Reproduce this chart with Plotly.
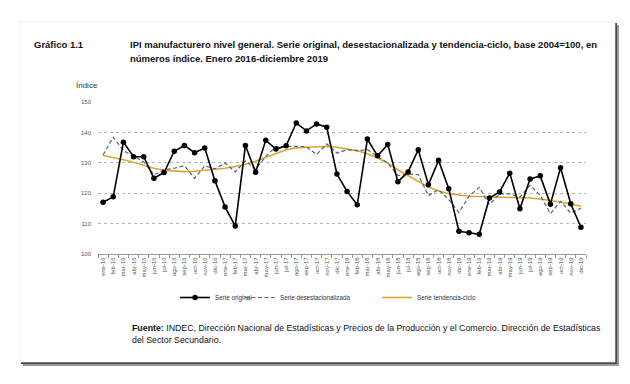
import plotly.graph_objects as go

months = ["ene", "feb", "mar", "abr", "may", "jun", "jul", "ago", "sep", "oct", "nov", "dic"]
years = ["16", "17", "18", "19"]
categories = [f"{m}-{y}" for y in years for m in months]

serie_original = [117.0, 118.8, 136.8, 132.0, 132.0, 124.9, 126.8, 133.8, 135.7, 133.3, 134.9, 124.1,
                  115.5, 109.2, 135.7, 126.9, 137.4, 134.5, 135.6, 143.1, 140.5, 142.8, 141.7, 126.3,
                  120.6, 116.2, 137.8, 132.3, 136.0, 123.8, 127.0, 134.3, 122.8, 130.8, 121.5, 107.5,
                  107.0, 106.5, 118.4, 120.4, 126.6, 114.9, 124.7, 125.7, 116.4, 128.4, 116.5, 108.8]

serie_desest = [132.6, 138.4, 134.0, 132.1, 130.3, 126.0, 127.7, 128.2, 129.0, 124.9, 129.0, 128.0,
                129.9, 127.0, 130.6, 127.9, 132.1, 135.3, 135.4, 135.4, 135.3, 132.7, 136.2, 133.2,
                134.3, 134.0, 134.3, 132.1, 129.9, 125.8, 126.3, 126.1, 119.2, 121.2, 117.9, 113.7,
                119.0, 121.9, 116.2, 119.8, 119.8, 118.7, 122.6, 119.3, 113.3, 117.3, 113.5, 115.1]

serie_tendencia = [132.4, 131.8, 131.0, 130.2, 129.1, 128.2, 127.5, 127.2, 127.1, 127.2, 127.5, 127.7,
                   128.2, 128.8, 129.5, 130.5, 131.8, 133.2, 134.3, 134.9, 135.2, 135.3, 135.4, 135.1,
                   134.5, 134.0, 133.0, 131.6, 129.9, 127.7, 125.8, 123.9, 122.0, 120.7, 119.8, 119.4,
                   119.0, 118.9, 118.8, 118.8, 118.6, 118.5, 118.4, 118.1, 117.7, 117.1, 116.4, 115.7]

y_ticks = [100, 110, 120, 130, 140, 150]

W, H = 630, 384
L, R, T, B = 98, 44, 102, 130
PW, PH = W - L - R, H - T - B


def px(x):
    return (x - L) / PW


def py(y):
    return (H - B - y) / PH


fig = go.Figure()

fig.add_trace(go.Scatter(
    x=categories, y=serie_tendencia, name="Serie tendencia-ciclo", mode="lines",
    line=dict(color="#dfa62c", width=1.6), legendrank=3, legendwidth=60))
fig.add_trace(go.Scatter(
    x=categories, y=serie_desest, name="Serie desestacionalizada", mode="lines",
    line=dict(color="#47698c", width=1.2, dash="4px,2.5px"), legendrank=2, legendwidth=92))
fig.add_trace(go.Scatter(
    x=categories, y=serie_original, name="Serie original", mode="lines+markers",
    line=dict(color="#000000", width=1.6), marker=dict(color="#000000", size=5.5),
    legendrank=1, legendwidth=20))

shapes = [
    # drop shadow of the page
    dict(type="rect", xref="paper", yref="paper", x0=px(23), x1=px(619), y0=py(25), y1=py(366),
         fillcolor="#9a9a9a", line=dict(width=0), layer="below"),
    dict(type="rect", xref="paper", yref="paper", x0=px(21), x1=px(617), y0=py(23), y1=py(364),
         fillcolor="#4a4a4a", line=dict(width=0), layer="below"),
    dict(type="rect", xref="paper", yref="paper", x0=px(20), x1=px(615), y0=py(22), y1=py(362),
         fillcolor="#ffffff", line=dict(color="#e4e4e4", width=0.6), layer="below"),
]

title_font = dict(family="Liberation Sans, Arial, sans-serif", size=9.5, color="#111111")
foot_font = dict(family="Liberation Sans, Arial, sans-serif", size=8.8, color="#111111")

annotations = [
    dict(text="<b>Gráfico 1.1</b>", x=px(32), y=py(44), xref="paper", yref="paper",
         xanchor="left", yanchor="middle", showarrow=False, font=title_font),
    dict(text="<b>IPI manufacturero nivel general. Serie original, desestacionalizada y tendencia-ciclo, base 2004=100, en</b>",
         x=px(128), y=py(44), xref="paper", yref="paper", xanchor="left", yanchor="middle",
         showarrow=False, font=title_font),
    dict(text="<b>números índice. Enero 2016-diciembre 2019</b>",
         x=px(128), y=py(59), xref="paper", yref="paper", xanchor="left", yanchor="middle",
         showarrow=False, font=title_font),
    dict(text="Índice", x=px(74), y=py(86), xref="paper", yref="paper", xanchor="left",
         yanchor="middle", showarrow=False,
         font=dict(family="Liberation Sans, Arial, sans-serif", size=8, color="#333333")),
    dict(text="<b>Fuente:</b> INDEC, Dirección Nacional de Estadísticas y Precios de la Producción y el Comercio. Dirección de Estadísticas",
         x=px(130), y=py(328), xref="paper", yref="paper", xanchor="left", yanchor="middle",
         showarrow=False, font=foot_font),
    dict(text="del Sector Secundario.",
         x=px(130), y=py(340), xref="paper", yref="paper", xanchor="left", yanchor="middle",
         showarrow=False, font=foot_font),
]

fig.update_layout(
    width=W, height=H,
    margin=dict(l=L, r=R, t=T, b=B),
    paper_bgcolor="#ffffff",
    plot_bgcolor="rgba(0,0,0,0)",
    showlegend=True,
    legend=dict(orientation="h", x=px(175), y=py(283), xanchor="left", yanchor="top",
                font=dict(family="Liberation Sans, Arial, sans-serif", size=6.3, color="#333333"),
                bgcolor="rgba(0,0,0,0)", itemwidth=30),
    xaxis=dict(
        type="category", categoryorder="array", categoryarray=categories,
        range=[-0.5, len(categories) - 0.5],
        showline=True, linecolor="#999999", linewidth=1,
        ticks="outside", tickson="boundaries", ticklen=3, tickcolor="#999999",
        tickangle=-90, showgrid=False,
        tickfont=dict(family="Liberation Sans, Arial, sans-serif", size=6, color="#555555"),
    ),
    yaxis=dict(
        range=[100, 150], tickvals=y_ticks, showline=False, zeroline=False,
        showgrid=True, gridcolor="#b5b5b5", griddash="dot", gridwidth=1,
        ticks="", ticklabelstandoff=6,
        tickfont=dict(family="Liberation Sans, Arial, sans-serif", size=6, color="#555555"),
    ),
    shapes=shapes,
    annotations=annotations,
)

fig.write_html("out.html", config={"displayModeBar": False},
               post_script="document.body.style.margin='0px';")
